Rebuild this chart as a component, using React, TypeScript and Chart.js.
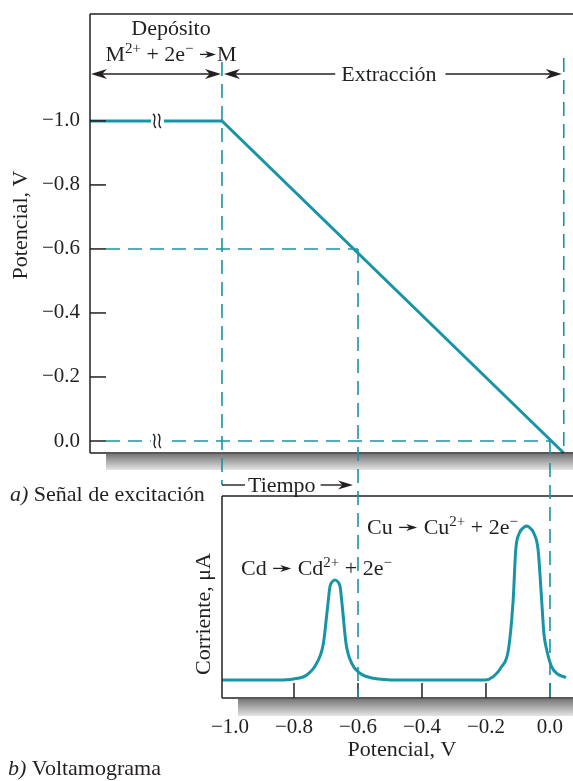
import React, { useEffect, useRef } from 'react';
import { Chart, registerables } from 'chart.js';

Chart.register(...registerables);

const SERIF = '"Liberation Serif", "Times New Roman", serif';
const INK = '#231f20';
const TEAL = '#1795a6';

// ---- (a) Señal de excitación: potential vs time ----
const excitationTime = [0, 4, 14.36];
const excitationPotential = [-1.0, -1.0, 0.0375];
const potentialTicks = [-1.0, -0.8, -0.6, -0.4, -0.2, 0.0];
const depositEndTime = 4;
const breakTime = 2;
const markedPotentials = [-0.6, 0.0];

// ---- (b) Voltamograma: current vs potential ----
const sweepPotential = [
  -1.025, -0.85, -0.802, -0.76, -0.729, -0.708, -0.696, -0.6875, -0.681, -0.672,
  -0.6625, -0.656, -0.648, -0.6375, -0.62, -0.594, -0.552, -0.47, -0.28, -0.203,
  -0.177, -0.151, -0.13, -0.115, -0.107, -0.096, -0.084, -0.073, -0.062, -0.05,
  -0.037, -0.026, -0.019, -0.01, 0.005, 0.021, 0.05,
];
const sweepCurrent = [
  0, 0, 0.05, 0.25, 0.84, 1.84, 3.5, 4.67, 4.9, 5.0,
  4.9, 4.67, 3.5, 1.84, 0.84, 0.34, 0.09, 0, 0, 0,
  0.17, 0.67, 1.5, 4.0, 6.5, 7.33, 7.6, 7.7, 7.6, 7.33,
  6.5, 4.0, 2.33, 1.5, 0.67, 0.33, 0.12,
];
const voltTicks = [-1.0, -0.8, -0.6, -0.4, -0.2, 0.0];

const fmt = (v: number) => (v < -1e-9 ? '\u2212' : '') + Math.abs(v).toFixed(1);
const font = (size: number, it = false) => `${it ? 'italic ' : ''}${size}px ${SERIF}`;

type Part = { t: string; sup?: boolean; it?: boolean } | { arrow: number };

function seg(ctx: CanvasRenderingContext2D, x0: number, y0: number, x1: number, y1: number) {
  ctx.beginPath();
  ctx.moveTo(x0, y0);
  ctx.lineTo(x1, y1);
  ctx.stroke();
}

function head(ctx: CanvasRenderingContext2D, tipX: number, tipY: number, dir: number, len: number, half: number) {
  ctx.beginPath();
  ctx.moveTo(tipX, tipY);
  ctx.lineTo(tipX - dir * len, tipY - half);
  ctx.lineTo(tipX - dir * len * 0.7, tipY);
  ctx.lineTo(tipX - dir * len, tipY + half);
  ctx.closePath();
  ctx.fill();
}

function rich(ctx: CanvasRenderingContext2D, parts: Part[], x: number, y: number, size: number, align: 'left' | 'center') {
  ctx.textAlign = 'left';
  ctx.textBaseline = 'alphabetic';
  const widths = parts.map((p) => {
    if ('arrow' in p) return p.arrow;
    ctx.font = font(p.sup ? size * 0.68 : size, p.it);
    return ctx.measureText(p.t).width;
  });
  const total = widths.reduce((a, b) => a + b, 0);
  let cx = align === 'center' ? x - total / 2 : x;
  parts.forEach((p, i) => {
    if ('arrow' in p) {
      const ay = y - size * 0.3;
      ctx.lineWidth = 1.3;
      seg(ctx, cx + 1, ay, cx + p.arrow - 4, ay);
      head(ctx, cx + p.arrow - 1, ay, 1, 11, 3.5);
    } else {
      ctx.font = font(p.sup ? size * 0.68 : size, p.it);
      ctx.fillText(p.t, cx, p.sup ? y - size * 0.38 : y);
    }
    cx += widths[i];
  });
  return total;
}

function shadow(ctx: CanvasRenderingContext2D, x0: number, y0: number, x1: number, h: number) {
  const g = ctx.createLinearGradient(0, y0, 0, y0 + h);
  g.addColorStop(0, '#777777');
  g.addColorStop(1, '#e4e4e4');
  ctx.fillStyle = g;
  ctx.fillRect(x0, y0, x1 - x0, h);
}

function vtext(ctx: CanvasRenderingContext2D, text: string, x: number, y: number, size: number) {
  ctx.save();
  ctx.translate(x, y);
  ctx.rotate(-Math.PI / 2);
  ctx.font = font(size);
  ctx.textAlign = 'center';
  ctx.textBaseline = 'alphabetic';
  ctx.fillText(text, 0, 0);
  ctx.restore();
}

function annotate(chart: any, top: any) {
  const ctx: CanvasRenderingContext2D = chart.ctx;
  const tx = top.scales.x, ty = top.scales.y;
  const bx = chart.scales.x;
  const ta = top.chartArea, ba = chart.chartArea;
  ctx.save();

  // shadows
  shadow(ctx, ta.left + 16, ta.bottom + 1, ta.right, 16);
  shadow(ctx, ba.left + 16, ba.bottom + 1, ba.right, 17);

  // frames
  ctx.strokeStyle = INK;
  ctx.lineWidth = 1.5;
  seg(ctx, ta.left, ta.top, ta.right, ta.top);
  seg(ctx, ta.left, ta.top, ta.left, ta.bottom);
  seg(ctx, ta.left, ta.bottom, ta.right, ta.bottom);
  seg(ctx, ba.left, ba.top, ba.right, ba.top);
  seg(ctx, ba.left, ba.top, ba.left, ba.bottom);
  seg(ctx, ba.left, ba.bottom, ba.right, ba.bottom);

  // inward ticks
  potentialTicks.forEach((v) => {
    const y = ty.getPixelForValue(v);
    seg(ctx, ta.left, y, ta.left + 16, y);
  });
  voltTicks.filter((v) => v > -0.99).forEach((v) => {
    const x = bx.getPixelForValue(v);
    seg(ctx, x, ba.bottom, x, ba.bottom - 15);
  });

  // dashed guides
  const xDep = tx.getPixelForValue(depositEndTime);
  const xEnd = tx.getPixelForValue(excitationTime[excitationTime.length - 1]);
  const arrowY = 74;
  const tiempoY = 485;
  ctx.strokeStyle = TEAL;
  ctx.lineWidth = 1.6;
  ctx.setLineDash([14, 8]);
  seg(ctx, xDep, arrowY - 12, xDep, tiempoY);
  seg(ctx, xEnd, arrowY - 16, xEnd, ta.bottom);
  markedPotentials.forEach((v) => {
    const yT = ty.getPixelForValue(v);
    const xB = bx.getPixelForValue(v);
    seg(ctx, ta.left + 16, yT, xB, yT);
    seg(ctx, xB, yT, xB, ba.bottom);
  });
  ctx.setLineDash([]);

  // break marks
  const xb = tx.getPixelForValue(breakTime) + 1;
  [potentialTicks[0], potentialTicks[potentialTicks.length - 1]].forEach((v) => {
    const y = ty.getPixelForValue(v);
    ctx.fillStyle = '#ffffff';
    ctx.fillRect(xb - 6, y - 4, 13, 8);
    ctx.strokeStyle = INK;
    ctx.lineWidth = 1.4;
    [-2.5, 2.5].forEach((dx) => {
      const x = xb + dx;
      ctx.beginPath();
      ctx.moveTo(x - 1.5, y - 7);
      ctx.bezierCurveTo(x + 4, y - 3, x - 4, y + 3, x + 1.5, y + 7);
      ctx.stroke();
    });
  });

  // arrows row
  ctx.strokeStyle = INK;
  ctx.fillStyle = INK;
  ctx.lineWidth = 1.5;
  seg(ctx, ta.left + 8, arrowY, xDep - 8, arrowY);
  head(ctx, ta.left + 1, arrowY, -1, 16, 5);
  head(ctx, xDep - 1, arrowY, 1, 16, 5);

  ctx.font = font(22);
  const extr = 'Extracción';
  const ew = ctx.measureText(extr).width;
  const ecx = (xDep + xEnd) / 2 - 4;
  ctx.textAlign = 'left';
  ctx.textBaseline = 'alphabetic';
  ctx.fillText(extr, ecx - ew / 2, arrowY + 7);
  seg(ctx, xDep + 8, arrowY, ecx - ew / 2 - 6, arrowY);
  seg(ctx, ecx + ew / 2 + 9, arrowY, xEnd - 8, arrowY);
  head(ctx, xDep + 2, arrowY, -1, 16, 5);
  head(ctx, xEnd - 2, arrowY, 1, 16, 5);

  // Depósito
  ctx.font = font(22);
  ctx.textAlign = 'center';
  ctx.fillText('Depósito', 171, 35);
  rich(ctx, [
    { t: 'M' }, { t: '2+', sup: true }, { t: ' + 2e' }, { t: '\u2212', sup: true }, { t: ' ' },
    { arrow: 18 }, { t: 'M' },
  ], 171, 61, 22, 'center');

  // Tiempo row
  ctx.lineWidth = 1.4;
  seg(ctx, xDep, tiempoY, xDep + 23, tiempoY);
  ctx.font = font(22);
  ctx.textAlign = 'left';
  const tw = ctx.measureText('Tiempo').width;
  ctx.fillText('Tiempo', xDep + 26, tiempoY + 7);
  const tEnd = bx.getPixelForValue(markedPotentials[0]) - 5;
  seg(ctx, xDep + 26 + tw + 5, tiempoY, tEnd - 6, tiempoY);
  head(ctx, tEnd, tiempoY, 1, 15, 4.5);

  // panel captions
  rich(ctx, [{ t: 'a)', it: true }, { t: ' Señal de excitación' }], 10, 501, 22, 'left');
  rich(ctx, [{ t: 'b)', it: true }, { t: ' Voltamograma' }], 8, 775, 22, 'left');

  // reaction labels
  rich(ctx, [
    { t: 'Cd ' }, { arrow: 20 }, { t: ' Cd' }, { t: '2+', sup: true }, { t: ' + 2e' }, { t: '\u2212', sup: true },
  ], 241, 575, 22, 'left');
  rich(ctx, [
    { t: 'Cu ' }, { arrow: 20 }, { t: ' Cu' }, { t: '2+', sup: true }, { t: ' + 2e' }, { t: '\u2212', sup: true },
  ], 367, 534, 22, 'left');

  // axis titles
  ctx.font = font(22);
  ctx.textAlign = 'center';
  ctx.fillText('Potencial, V', 402, 756);
  vtext(ctx, 'Potencial, V', 27, 225, 22);
  vtext(ctx, 'Corriente, \u03bcA', 210, 614, 22);

  ctx.restore();
}

export default function App() {
  const topRef = useRef<HTMLCanvasElement>(null);
  const botRef = useRef<HTMLCanvasElement>(null);

  useEffect(() => {
    if (!topRef.current || !botRef.current) return;
    const top = new Chart(topRef.current, {
      type: 'line',
      data: {
        datasets: [
          {
            data: excitationTime.map((t, i) => ({ x: t, y: excitationPotential[i] })),
            borderColor: TEAL,
            borderWidth: 3,
            pointRadius: 0,
            fill: false,
            tension: 0,
            clip: false,
            borderJoinStyle: 'miter',
          } as any,
        ],
      },
      options: {
        responsive: false,
        animation: false,
        events: [],
        layout: { autoPadding: false, padding: { top: 14, left: 0, right: 0, bottom: 328 } },
        plugins: { legend: { display: false }, tooltip: { enabled: false } },
        scales: {
          x: {
            type: 'linear', display: false, min: 0, max: 14.64,
            afterFit: (s: any) => { s.paddingLeft = 0; s.paddingRight = 0; },
          },
          y: {
            type: 'linear',
            reverse: true,
            min: -1.334,
            max: 0.0375,
            afterFit: (s: any) => { s.width = 90; s.paddingTop = 0; s.paddingBottom = 0; },
            afterBuildTicks: (s: any) => { s.ticks = potentialTicks.map((v) => ({ value: v })); },
            grid: { display: false, drawTicks: false },
            border: { display: false },
            ticks: {
              padding: 10,
              color: INK,
              font: { family: SERIF, size: 21 },
              callback: (v: any) => fmt(Number(v)),
            },
          },
        },
      } as any,
    });

    const bottom = new Chart(botRef.current, {
      type: 'line',
      data: {
        datasets: [
          {
            data: sweepPotential.map((p, i) => ({ x: p, y: sweepCurrent[i] })),
            borderColor: TEAL,
            borderWidth: 3,
            pointRadius: 0,
            fill: false,
            cubicInterpolationMode: 'monotone',
          } as any,
        ],
      },
      options: {
        responsive: false,
        animation: false,
        events: [],
        layout: { autoPadding: false, padding: { top: 496, left: 222, right: 0, bottom: 0 } },
        plugins: { legend: { display: false }, tooltip: { enabled: false } },
        scales: {
          x: {
            type: 'linear',
            min: -1.025,
            max: 0.072,
            afterFit: (s: any) => { s.height = 83; s.paddingLeft = 0; s.paddingRight = 0; },
            afterBuildTicks: (s: any) => { s.ticks = voltTicks.map((v) => ({ value: v })); },
            grid: { display: false, drawTicks: false },
            border: { display: false },
            ticks: {
              padding: 17,
              maxRotation: 0,
              autoSkip: false,
              color: INK,
              font: { family: SERIF, size: 21 },
              callback: (v: any) => fmt(Number(v)),
            },
          },
          y: {
            type: 'linear', display: false, min: -0.9, max: 9.2,
            afterFit: (s: any) => { s.paddingTop = 0; s.paddingBottom = 0; },
          },
        },
      } as any,
      plugins: [{ id: 'annot', afterDraw: (c: any) => annotate(c, top) }],
    });

    return () => {
      bottom.destroy();
      top.destroy();
    };
  }, []);

  return (
    <div style={{ position: 'absolute', left: 0, top: 0, width: 573, height: 781, background: '#ffffff' }}>
      <canvas ref={topRef} width={573} height={781} style={{ position: 'absolute', left: 0, top: 0 }} />
      <canvas ref={botRef} width={573} height={781} style={{ position: 'absolute', left: 0, top: 0 }} />
    </div>
  );
}
